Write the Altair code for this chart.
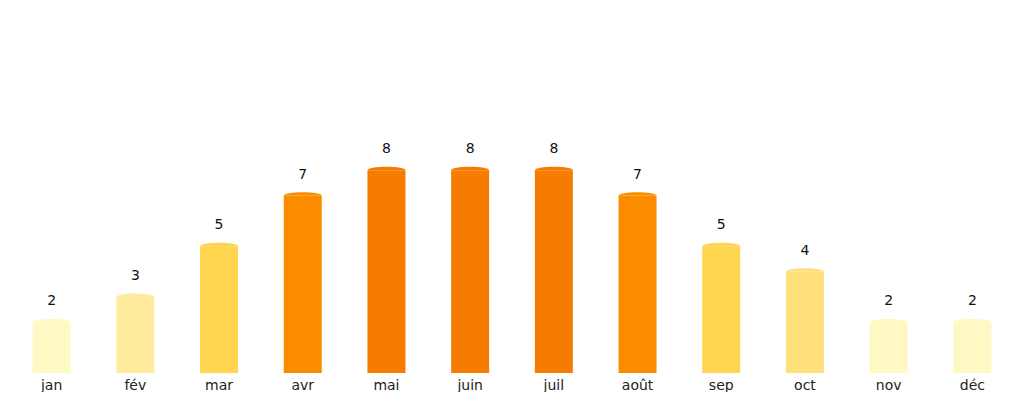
import altair as alt
import pandas as pd

months = ["jan", "fév", "mar", "avr", "mai", "juin", "juil", "août", "sep", "oct", "nov", "déc"]
values = [2, 3, 5, 7, 8, 8, 8, 7, 5, 4, 2, 2]
colors = ["#FFF9C6", "#FFEB9E", "#FFD54F", "#FB8C00", "#F57C00", "#F57C00",
          "#F57C00", "#FB8C00", "#FFD54F", "#FFE07A", "#FFF8C2", "#FFF8C4"]

df = pd.DataFrame({"month": months, "value": values})

x = alt.X("month:N", sort=months, title=None,
          scale=alt.Scale(paddingInner=0.545, paddingOuter=0.27),
          axis=alt.Axis(labelAngle=0, domain=False, ticks=False, labelPadding=5,
                        labelFontSize=14, labelColor="#222222", labelFont="DejaVu Sans"))
y = alt.Y("value:Q", title=None, scale=alt.Scale(domain=[0, 14.4], nice=False),
          axis=None)
color = alt.Color("month:N", scale=alt.Scale(domain=months, range=colors), legend=None)

base = alt.Chart(df)
bars = base.mark_bar(size=38).encode(x=x, y=y, color=color)
cap_path = "M-1,0 A1,0.18 0 0 1 1,0 Z"
caps = base.mark_point(shape=cap_path, filled=True, size=1444, opacity=1, strokeWidth=0).encode(
    x=x, y=y, color=color)
labels = base.mark_text(baseline="bottom", dy=-14, fontSize=14, color="#111111",
                        font="DejaVu Sans").encode(x=x, y=y, text="value:Q")

chart = (bars + caps + labels).properties(
    width=1004, height=365, padding={"left": 2, "top": 0, "right": 0, "bottom": 0}
).configure_view(stroke=None)

chart.save("out.html", embed_options={"renderer": "svg", "actions": False})
